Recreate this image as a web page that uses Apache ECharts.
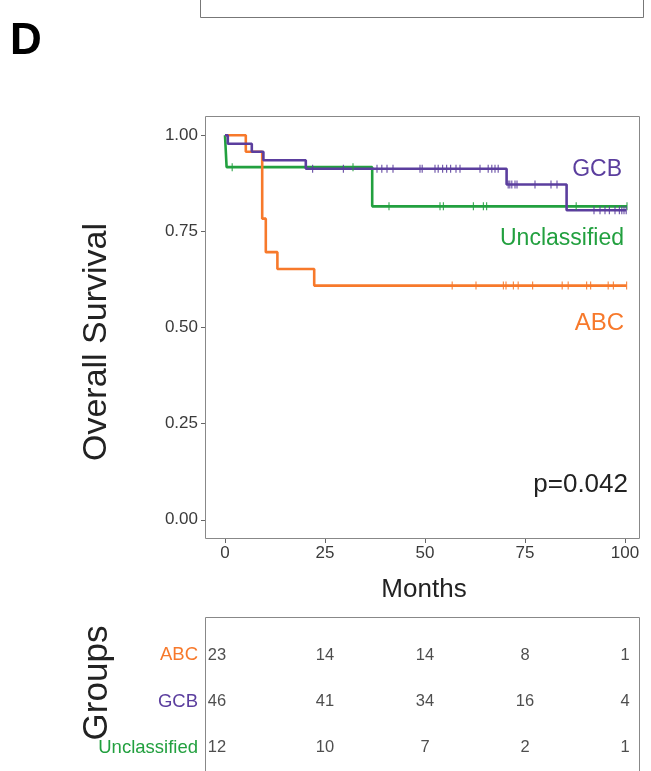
<!DOCTYPE html>
<html><head><meta charset="utf-8">
<script src="https://cdn.jsdelivr.net/npm/echarts@6/dist/echarts.min.js"></script>
<style>html,body{margin:0;padding:0;background:#fff}#c{width:651px;height:771px}</style>
</head><body><div id="c"></div>
<script>
const groups = ['ABC', 'GCB', 'Unclassified'];
// Kaplan-Meier steps: [month, survival after event]
const abcSteps = [[0, 1], [5.2, 0.957], [9.3, 0.783], [10.2, 0.696], [13.1, 0.652], [22.3, 0.609]];
const abcEnd = 100.4;
const abcCensor = [56.8, 62.75, 69.6, 70.25, 72.1, 73.3, 76.9, 84.3, 85.8, 90.4, 91.4, 95.8, 97.1, 100.4];
const gcbSteps = [[0, 1], [0.7, 0.978], [6.7, 0.957], [9.6, 0.935], [20.2, 0.913], [70.4, 0.872], [85.4, 0.805]];
const gcbEnd = 100.3;
const gcbCensor = [21.9, 29.6, 38, 39.2, 40.5, 42, 48.75, 49.3, 52.5, 53.3, 54.4, 55.4, 56.4, 57.75, 58.75, 63.75, 65.8, 66.7, 67.5, 68.3, 70.8, 71.2, 71.7, 72.5, 73, 77.5, 81.5, 83, 92.25, 93.75, 95, 96.1, 97.5, 98.6, 99.2, 99.75, 100.3];
const uncSteps = [[0, 1], [0.4, 0.917], [36.8, 0.815]];
const uncEnd = 100.5;
const uncCensor = [1.8, 32, 41, 53.75, 54.6, 62.1, 64.6, 65.4, 87.8, 100.5];
const xTicks = [0, 25, 50, 75, 100];
const yTicks = [0, 0.25, 0.5, 0.75, 1];
const riskTimes = [0, 25, 50, 75, 100];
const riskABC = [23, 14, 14, 8, 1];
const riskGCB = [46, 41, 34, 16, 4];
const riskUnc = [12, 10, 7, 2, 1];
const pValueText = 'p=0.042';

const colors = { ABC: '#F7792B', GCB: '#5B3E9E', Unclassified: '#22A03F' };
const FONT = 'Liberation Sans, Arial, sans-serif';

function stepAt(steps, t) {
  let v = steps[0][1];
  for (const s of steps) { if (s[0] <= t) v = s[1]; }
  return v;
}
function curve(name, steps, end, cens) {
  const line = steps.map(s => [s[0], s[1]]).concat([[end, steps[steps.length - 1][1]]]);
  return [
    { type: 'line', name, step: 'end', data: line, showSymbol: false, symbol: 'none',
      lineStyle: { color: colors[name], width: 2.6 }, xAxisIndex: 0, yAxisIndex: 0, z: 3, animation: false },
    { type: 'scatter', name: name + '_c', data: cens.map(t => [t, stepAt(steps, t)]),
      symbol: 'rect', symbolSize: [1.2, 8], itemStyle: { color: colors[name], opacity: 0.85 },
      xAxisIndex: 0, yAxisIndex: 0, z: 4, animation: false }
  ];
}
const riskRows = { ABC: riskABC, GCB: riskGCB, Unclassified: riskUnc };
const riskData = [];
groups.forEach(g => riskTimes.forEach((t, i) => riskData.push([t, g, riskRows[g][i]])));

const chart = echarts.init(document.getElementById('c'), null, { renderer: 'canvas' });
chart.setOption({
  backgroundColor: '#fff',
  animation: false,
  grid: [
    { left: 205, top: 116, width: 435, height: 423 },
    { left: 225, top: 632, width: 400, height: 139.5 }
  ],
  xAxis: [
    { type: 'value', gridIndex: 0, min: -5, max: 103.75, position: 'bottom',
      axisLine: { show: false, onZero: false }, splitLine: { show: false },
      axisTick: { show: true, length: 4, lineStyle: { color: '#666' }, customValues: xTicks },
      axisLabel: { fontSize: 17, color: '#3a3a3a', fontFamily: FONT, margin: 6, customValues: xTicks,
        formatter: v => String(v) } },
    { type: 'value', gridIndex: 1, min: 0, max: 100, show: false }
  ],
  yAxis: [
    { type: 'value', gridIndex: 0, min: -0.05, max: 1.05, position: 'left',
      axisLine: { show: false, onZero: false }, splitLine: { show: false },
      axisTick: { show: true, length: 4, lineStyle: { color: '#666' }, customValues: yTicks },
      axisLabel: { fontSize: 17, color: '#3a3a3a', fontFamily: FONT, margin: 7, customValues: yTicks,
        formatter: v => v.toFixed(2) } },
    { type: 'category', gridIndex: 1, data: groups, inverse: true, offset: 20,
      axisLine: { show: false, onZero: false }, axisTick: { show: false }, splitLine: { show: false },
      axisLabel: { fontSize: 18.5, fontFamily: FONT, margin: 7, color: (v) => colors[v] } }
  ],
  series: [
    ...curve('Unclassified', uncSteps, uncEnd, uncCensor),
    ...curve('ABC', abcSteps, abcEnd, abcCensor),
    ...curve('GCB', gcbSteps, gcbEnd, gcbCensor),
    { type: 'scatter', xAxisIndex: 1, yAxisIndex: 1, data: riskData, symbolSize: 0,
      label: { show: true, position: 'inside', fontSize: 16.5, fontFamily: FONT, color: '#222',
        formatter: p => String(p.value[2]) },
      labelLayout: p => (p.dataIndex % 5 === 0 ? { dx: -8 } : {}),
      animation: false }
  ],
  graphic: [
    { type: 'rect', shape: { x: 200.5, y: -10, width: 443, height: 27.5 }, style: { fill: 'none', stroke: '#777', lineWidth: 1 }, silent: true },
    { type: 'rect', shape: { x: 205.5, y: 116.5, width: 434, height: 422 }, style: { fill: 'none', stroke: '#888', lineWidth: 1 }, silent: true },
    { type: 'rect', shape: { x: 205.5, y: 617.5, width: 434, height: 200 }, style: { fill: 'none', stroke: '#888', lineWidth: 1 }, silent: true },
    { type: 'text', x: 10, y: 20, style: { text: 'D', fontSize: 44, fontWeight: 'bold', fontFamily: FONT, fill: '#000' } },
    { type: 'text', x: 622, y: 170, style: { text: 'GCB', fontSize: 23, fontFamily: FONT, fill: colors.GCB, align: 'right', verticalAlign: 'middle' } },
    { type: 'text', x: 624, y: 239, style: { text: 'Unclassified', fontSize: 23, fontFamily: FONT, fill: colors.Unclassified, align: 'right', verticalAlign: 'middle' } },
    { type: 'text', x: 624, y: 323, style: { text: 'ABC', fontSize: 24, fontFamily: FONT, fill: colors.ABC, align: 'right', verticalAlign: 'middle' } },
    { type: 'text', x: 628, y: 485, style: { text: pValueText, fontSize: 26, fontFamily: FONT, fill: '#222', align: 'right', verticalAlign: 'middle' } },
    { type: 'text', x: 424, y: 590, style: { text: 'Months', fontSize: 26, fontFamily: FONT, fill: '#222', align: 'center', verticalAlign: 'middle' } },
    { type: 'text', x: 97, y: 342, rotation: Math.PI / 2, style: { text: 'Overall Survival', fontSize: 34, fontFamily: FONT, fill: '#222', align: 'center', verticalAlign: 'middle' } },
    { type: 'text', x: 97, y: 683, rotation: Math.PI / 2, style: { text: 'Groups', fontSize: 35, fontFamily: FONT, fill: '#222', align: 'center', verticalAlign: 'middle' } }
  ]
});
</script>
</body></html>
